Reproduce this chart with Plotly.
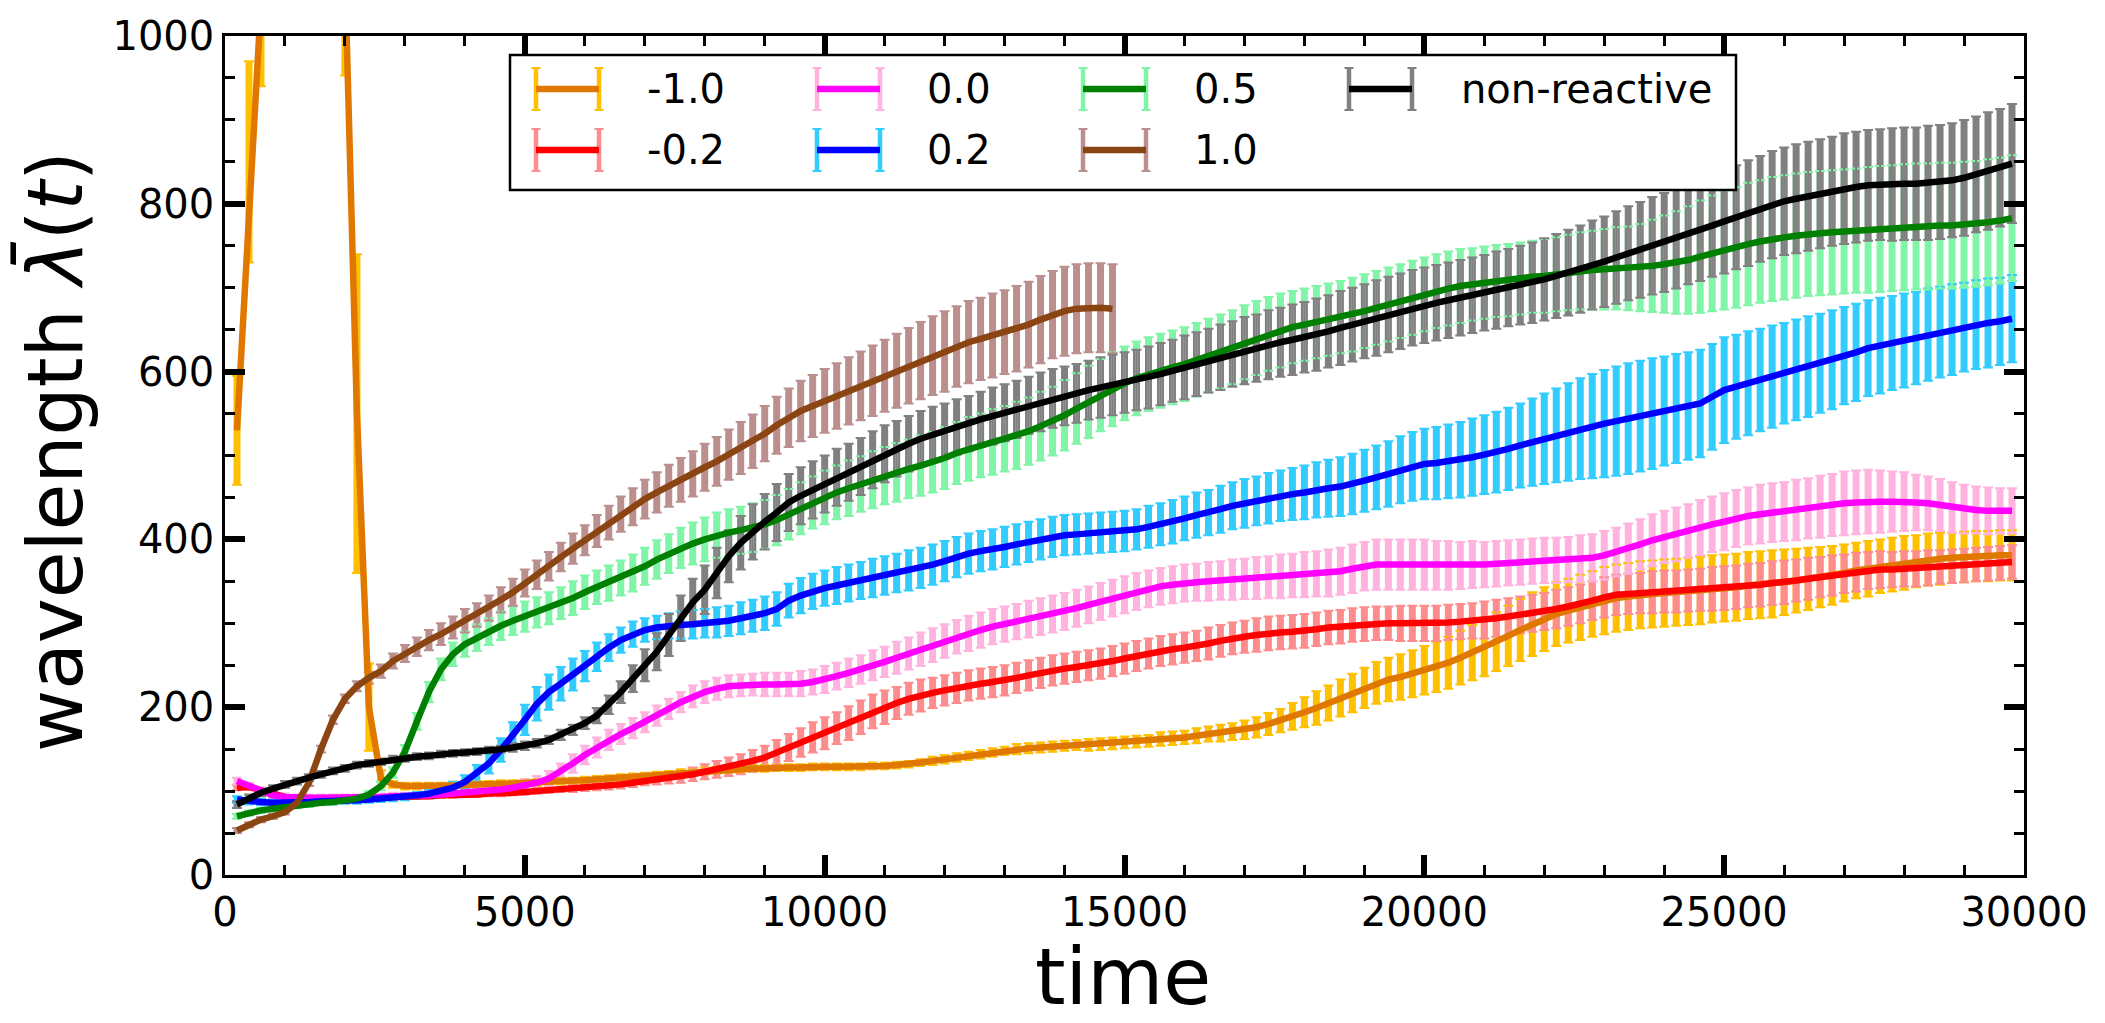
import plotly.graph_objects as go

# ---------------- data ----------------
TIME = list(range(200, 29801, 200))          # sample times (149 points)
TIME_1P0 = TIME[:74]                          # series "1.0" stops at 14800

LABELS = ["-1.0", "-0.2", "0.0", "0.2", "0.5", "1.0", "non-reactive"]

MEAN_M1P0 = [530, 850, 1150, 1400, 1550, 1600, 1550, 1450, 1300, 1076,
             550, 200, 115, 108, 106, 106, 106, 106, 107, 107,
             108, 108, 109, 109, 110, 110, 111, 112, 112, 113,
             114, 115, 116, 117, 118, 119, 120, 122, 123, 124,
             125, 126, 126, 127, 127, 128, 128, 128, 129, 129,
             129, 129, 129, 130, 130, 131, 132, 134, 136, 138,
             140, 142, 144, 146, 148, 150, 151, 152, 153, 154,
             155, 155, 156, 157, 158, 159, 160, 162, 163, 164,
             166, 168, 169, 171, 173, 176, 180, 184, 189, 194,
             199, 205, 211, 217, 223, 229, 233, 236, 240, 244,
             248, 253, 259, 265, 271, 278, 285, 292, 299, 305,
             311, 315, 319, 323, 327, 330, 332, 334, 335, 336,
             337, 338, 339, 341, 342, 343, 345, 346, 347, 349,
             351, 353, 355, 357, 360, 363, 365, 368, 370, 372,
             374, 376, 377, 378, 379, 380, 380, 381, 381]
ERR_M1P0 = [65, 120, 210, 250, 250, 250, 250, 220, 180, 123,
            190, 52, 10, 4, 4, 4, 4, 4, 4, 4,
            4, 4, 4, 4, 4, 4, 4, 4, 4, 4,
            4, 4, 4, 4, 4, 4, 4, 4, 4, 4,
            4, 4, 4, 4, 4, 4, 4, 4, 4, 4,
            4, 4, 4, 4, 4, 4, 4, 4, 5, 5,
            5, 5, 5, 5, 5, 6, 6, 6, 6, 6,
            6, 7, 7, 7, 7, 7, 7, 8, 8, 8,
            9, 9, 10, 10, 11, 12, 13, 14, 16, 18,
            20, 21, 22, 23, 24, 25, 26, 27, 28, 29,
            30, 31, 32, 33, 34, 35, 36, 37, 38, 38,
            38, 38, 39, 39, 40, 40, 40, 40, 40, 40,
            40, 40, 40, 40, 40, 40, 40, 40, 40, 39,
            38, 37, 36, 35, 34, 33, 33, 32, 32, 32,
            31, 31, 31, 30, 30, 30, 30, 30, 30]

MEAN_M0P2 = [104, 105, 101, 96, 93, 92, 91, 91, 91, 91,
             91, 92, 92, 93, 93, 94, 94, 95, 95, 96,
             96, 97, 97, 98, 99, 100, 101, 102, 103, 104,
             105, 106, 108, 110, 112, 114, 115, 117, 120, 123,
             126, 129, 132, 136, 140, 146, 152, 158, 164, 169,
             175, 181, 188, 195, 200, 205, 210, 214, 217, 220,
             223, 226, 228, 230, 232, 235, 238, 241, 244, 246,
             248, 250, 252, 255, 258, 261, 264, 267, 269, 271,
             273, 276, 279, 282, 284, 286, 288, 289, 290, 291,
             293, 295, 296, 298, 299, 300, 300, 300, 300, 300,
             300, 301, 302, 303, 304, 306, 308, 310, 312, 314,
             317, 320, 323, 327, 331, 334, 335, 336, 337, 338,
             338, 339, 340, 341, 342, 343, 345, 346, 348, 349,
             351, 353, 355, 357, 359, 361, 363, 364, 364, 365,
             365, 366, 367, 368, 369, 370, 371, 372, 373]
ERR_M0P2 = [3, 3, 3, 3, 3, 3, 3, 3, 3, 3,
            3, 3, 3, 3, 3, 3, 3, 3, 3, 3,
            3, 3, 3, 3, 3, 3, 3, 3, 4, 4,
            4, 4, 5, 5, 5, 6, 6, 7, 8, 9,
            10, 11, 12, 13, 14, 15, 16, 17, 18, 19,
            19, 20, 20, 20, 20, 19, 19, 19, 18, 18,
            18, 18, 18, 18, 18, 18, 18, 18, 18, 18,
            18, 18, 18, 18, 18, 18, 18, 18, 18, 18,
            18, 19, 19, 19, 19, 20, 20, 20, 20, 20,
            20, 20, 20, 20, 20, 20, 20, 21, 21, 21,
            21, 21, 21, 21, 22, 22, 22, 22, 22, 22,
            23, 23, 23, 23, 24, 24, 24, 24, 25, 25,
            25, 25, 25, 26, 26, 26, 26, 26, 26, 26,
            25, 25, 24, 24, 23, 23, 22, 22, 21, 21,
            21, 21, 20, 20, 20, 20, 20, 20, 20]

MEAN_0P0 = [112, 106, 100, 95, 93, 92, 92, 92, 92, 92,
            92, 93, 93, 94, 94, 95, 95, 96, 97, 98,
            99, 100, 102, 104, 107, 110, 115, 123, 133, 143,
            152, 161, 168, 175, 182, 190, 198, 206, 213, 218,
            222, 225, 226, 227, 227, 227, 227, 228, 230, 233,
            237, 241, 245, 250, 254, 259, 264, 269, 274, 279,
            284, 288, 292, 296, 299, 302, 305, 308, 311, 314,
            318, 322, 326, 330, 334, 338, 341, 344, 346, 348,
            349, 350, 351, 352, 353, 354, 355, 356, 357, 358,
            359, 360, 362, 365, 368, 370, 370, 370, 370, 370,
            369, 369, 369, 370, 370, 371, 372, 373, 374, 375,
            375, 376, 377, 378, 381, 385, 389, 394, 399, 403,
            406, 410, 414, 418, 421, 425, 428, 430, 432, 433,
            435, 437, 439, 441, 443, 444, 445, 445, 445, 445,
            444, 443, 441, 438, 436, 435, 434, 434, 434]
ERR_0P0 = [4, 4, 4, 4, 4, 4, 4, 4, 4, 4,
           4, 4, 4, 4, 4, 4, 4, 4, 4, 4,
           4, 5, 5, 6, 7, 8, 9, 10, 11, 11,
           12, 12, 12, 12, 12, 12, 12, 12, 13, 13,
           13, 13, 13, 13, 14, 14, 14, 15, 15, 16,
           16, 17, 17, 18, 18, 19, 19, 20, 20, 20,
           20, 21, 21, 21, 21, 21, 22, 22, 22, 22,
           22, 22, 22, 22, 22, 22, 22, 22, 22, 22,
           22, 23, 23, 24, 24, 25, 25, 26, 26, 27,
           27, 28, 28, 29, 29, 30, 30, 30, 30, 30,
           29, 29, 28, 28, 27, 27, 27, 27, 27, 27,
           27, 27, 28, 28, 29, 29, 30, 30, 31, 31,
           32, 32, 33, 33, 34, 34, 34, 35, 35, 35,
           36, 36, 37, 37, 38, 38, 38, 37, 36, 35,
           33, 32, 31, 30, 29, 28, 28, 27, 27]

MEAN_0P2 = [90, 88, 87, 86, 86, 87, 87, 88, 88, 89,
            89, 90, 91, 92, 93, 95, 97, 100, 104, 111,
            121, 133, 149, 166, 185, 204, 218, 228, 239, 249,
            260, 271, 280, 287, 292, 295, 297, 298, 299, 300,
            301, 303, 306, 309, 312, 317, 327, 333, 338, 342,
            345, 348, 351, 354, 357, 360, 363, 366, 370, 374,
            379, 383, 386, 388, 391, 394, 397, 400, 403, 405,
            406, 407, 408, 409, 410, 412, 415, 418, 421, 425,
            429, 432, 436, 440, 443, 446, 449, 452, 454, 456,
            459, 461, 463, 466, 470, 474, 478, 483, 487, 490,
            491, 493, 495, 498, 501, 504, 508, 512, 516, 520,
            524, 528, 532, 535, 538, 541, 544, 547, 550, 553,
            556, 559, 562, 570, 578, 582, 586, 590, 594, 598,
            602, 606, 610, 614, 619, 623, 628, 631, 634, 637,
            640, 644, 647, 650, 653, 656, 658, 660, 663]
ERR_0P2 = [4, 4, 4, 4, 4, 4, 4, 4, 4, 4,
           4, 4, 4, 4, 4, 4, 5, 6, 7, 8,
           10, 12, 14, 16, 18, 20, 21, 20, 19, 18,
           17, 16, 15, 15, 14, 14, 15, 16, 17, 17,
           18, 18, 19, 19, 20, 20, 20, 21, 21, 21,
           22, 22, 22, 23, 23, 23, 24, 24, 24, 24,
           24, 24, 24, 24, 24, 24, 24, 24, 24, 24,
           24, 24, 24, 24, 24, 24, 25, 25, 26, 26,
           27, 27, 28, 28, 29, 29, 30, 30, 31, 32,
           33, 34, 35, 36, 37, 38, 39, 40, 41, 42,
           43, 44, 45, 46, 47, 48, 49, 50, 52, 54,
           56, 58, 60, 62, 64, 65, 66, 66, 66, 65,
           65, 64, 64, 63, 63, 62, 62, 61, 61, 60,
           60, 60, 59, 59, 58, 58, 57, 57, 56, 56,
           55, 55, 54, 54, 53, 53, 53, 52, 52]

MEAN_0P5 = [70, 74, 77, 79, 81, 83, 84, 86, 87, 89,
            91, 96, 106, 122, 147, 183, 218, 245, 263, 275,
            283, 290, 297, 303, 308, 313, 318, 324, 330, 337,
            343, 348, 354, 360, 368, 376, 383, 390, 395, 400,
            405, 408, 411, 414, 418, 423, 430, 437, 444, 450,
            456, 461, 466, 471, 476, 480, 484, 488, 492, 497,
            503, 508, 512, 516, 520, 524, 529, 535, 541, 548,
            556, 564, 572, 579, 586, 592, 597, 601, 605, 609,
            614, 619, 624, 629, 635, 640, 645, 649, 653, 656,
            659, 662, 665, 668, 672, 676, 680, 684, 688, 692,
            696, 699, 702, 704, 706, 708, 709, 711, 713, 714,
            716, 718, 720, 721, 722, 723, 723, 724, 726, 728,
            730, 733, 737, 741, 745, 748, 752, 755, 758, 760,
            762, 764, 765, 766, 767, 768, 769, 770, 771, 772,
            773, 773, 774, 774, 775, 776, 778, 780, 783]
ERR_0P5 = [3, 3, 3, 3, 3, 3, 3, 3, 3, 3,
           3, 4, 5, 6, 8, 10, 12, 13, 14, 15,
           16, 16, 17, 17, 18, 18, 19, 19, 20, 20,
           20, 21, 21, 22, 22, 23, 23, 24, 25, 26,
           27, 28, 28, 29, 29, 30, 30, 31, 31, 32,
           32, 33, 33, 34, 34, 35, 35, 36, 36, 37,
           37, 38, 38, 39, 39, 40, 40, 41, 41, 42,
           42, 43, 43, 44, 44, 44, 44, 44, 44, 44,
           44, 44, 44, 44, 44, 44, 44, 44, 43, 43,
           43, 43, 43, 44, 44, 44, 44, 44, 44, 44,
           44, 44, 44, 43, 43, 43, 43, 43, 43, 44,
           44, 45, 46, 47, 48, 49, 50, 52, 55, 58,
           61, 64, 67, 69, 71, 72, 73, 73, 74, 74,
           74, 74, 74, 74, 74, 74, 75, 75, 75, 75,
           75, 75, 75, 75, 75, 75, 75, 75, 75]

MEAN_1P0 = [53, 60, 66, 70, 75, 86, 110, 150, 185, 210,
            225, 235, 243, 255, 264, 272, 280, 287, 295, 303,
            310, 318, 328, 337, 348, 358, 368, 379, 389, 399,
            410, 420, 430, 439, 448, 456, 464, 471, 478, 486,
            493, 501, 509, 517, 526, 536, 545, 553, 559, 565,
            571, 577, 583, 589, 595, 601, 607, 613, 619, 624,
            630, 635, 639, 643, 647, 651, 656, 662, 668, 672,
            675, 676, 676, 675]
ERR_1P0 = [3, 3, 3, 3, 3, 3, 4, 4, 5, 5,
           6, 7, 8, 9, 10, 11, 12, 13, 13, 14,
           14, 15, 15, 16, 16, 17, 17, 17, 18, 18,
           19, 20, 21, 22, 23, 24, 25, 26, 27, 28,
           29, 30, 31, 32, 33, 34, 35, 36, 37, 38,
           39, 40, 41, 42, 43, 44, 45, 46, 47, 48,
           48, 49, 49, 50, 50, 51, 51, 52, 52, 53,
           53, 53, 53, 53]

MEAN_NR = [84, 92, 98, 103, 108, 112, 116, 120, 124, 127,
           131, 133, 135, 138, 139, 141, 142, 144, 145, 146,
           147, 149, 150, 152, 154, 157, 161, 167, 173, 181,
           190, 203, 218, 234, 250, 266, 286, 306, 325, 340,
           360, 380, 396, 409, 421, 432, 444, 452, 459, 466,
           474, 480, 487, 495, 502, 508, 514, 520, 525, 529,
           534, 538, 543, 547, 551, 555, 560, 564, 568, 571,
           574, 578, 581, 584, 587, 590, 593, 597, 601, 605,
           609, 613, 617, 621, 625, 628, 632, 635, 638, 641,
           644, 648, 652, 656, 660, 664, 668, 672, 676, 679,
           682, 685, 688, 691, 694, 697, 700, 703, 706, 710,
           714, 718, 722, 727, 731, 736, 741, 745, 750, 754,
           759, 764, 769, 774, 779, 784, 789, 794, 799, 803,
           806, 809, 812, 815, 818, 820, 822, 823, 823, 824,
           824, 825, 826, 828, 831, 835, 839, 843, 848]
ERR_NR = [4, 4, 4, 4, 4, 4, 4, 4, 4, 4,
          4, 4, 4, 4, 4, 4, 4, 4, 4, 4,
          4, 4, 4, 5, 5, 5, 5, 6, 6, 7,
          9, 11, 13, 16, 19, 22, 25, 27, 28, 29,
          30, 31, 32, 33, 33, 34, 34, 34, 34, 34,
          34, 34, 34, 34, 34, 33, 33, 33, 33, 33,
          33, 33, 33, 34, 34, 34, 34, 35, 35, 35,
          35, 35, 36, 36, 36, 36, 37, 37, 37, 38,
          38, 38, 39, 39, 40, 40, 41, 41, 42, 42,
          43, 43, 44, 44, 44, 45, 45, 45, 45, 45,
          45, 45, 45, 45, 45, 46, 46, 47, 48, 49,
          50, 51, 52, 53, 54, 55, 56, 57, 58, 59,
          60, 60, 61, 61, 62, 62, 63, 63, 64, 64,
          65, 65, 65, 65, 66, 66, 66, 66, 67, 67,
          67, 68, 68, 68, 69, 69, 70, 70, 71]

X_TICKS = [0, 5000, 10000, 15000, 20000, 25000, 30000]
Y_TICKS = [0, 200, 400, 600, 800, 1000]

# ---------------- styles ----------------
LINE_COLORS = ["#E07800", "#FF0000", "#FF00FF", "#0000FF", "#008000", "#8B4513", "#000000"]
BAR_COLORS = ["#FFC000", "#FF8C8C", "#FFB3DE", "#33CCFF", "#80F5A8", "#BC8F8F", "#808080"]

SERIES = [
    (TIME, MEAN_M1P0, ERR_M1P0),
    (TIME, MEAN_M0P2, ERR_M0P2),
    (TIME, MEAN_0P0, ERR_0P0),
    (TIME, MEAN_0P2, ERR_0P2),
    (TIME, MEAN_0P5, ERR_0P5),
    (TIME_1P0, MEAN_1P0, ERR_1P0),
    (TIME, MEAN_NR, ERR_NR),
]

W, H = 2105, 1023
ML, MR, MT, MB = 225, 81, 36, 148
PW, PH = W - ML - MR, H - MT - MB
FONT = "DejaVu Sans"


def px(xp):
    return (xp - ML) / PW


def py(yp):
    return (H - MB - yp) / PH


fig = go.Figure()

# thick error bars (no caps) under everything
for (t, m, e), bc in zip(SERIES, BAR_COLORS):
    fig.add_trace(go.Scatter(
        x=t, y=m, mode="markers",
        marker=dict(size=1, opacity=0, color=bc),
        error_y=dict(type="data", array=e, color=bc, thickness=7, width=0),
        hoverinfo="skip", showlegend=False))

# thin caps on top of the bars
for (t, m, e), bc in zip(SERIES, BAR_COLORS):
    fig.add_trace(go.Scatter(
        x=t, y=m, mode="markers",
        marker=dict(size=1, opacity=0, color=bc),
        error_y=dict(type="data", array=e, color=bc, thickness=2, width=5),
        hoverinfo="skip", showlegend=False))

# mean curves
for (t, m, e), lab, lc in zip(SERIES, LABELS, LINE_COLORS):
    fig.add_trace(go.Scatter(
        x=t, y=m, mode="lines", name=lab,
        line=dict(color=lc, width=6.5), showlegend=False))

axis_common = dict(
    showgrid=False, zeroline=False, showline=True, linecolor="black", linewidth=2.5,
    mirror="ticks", ticks="inside", ticklen=20, tickwidth=6, tickcolor="black",
    tickfont=dict(family=FONT, size=40, color="black"),
)
fig.update_xaxes(range=[0, 30000], tickvals=X_TICKS, ticktext=[str(v) for v in X_TICKS],
                 minor=dict(dtick=1000, ticks="inside", ticklen=10, tickwidth=2.7,
                            tickcolor="black", showgrid=False),
                 **axis_common)
fig.update_yaxes(range=[0, 1000], tickvals=Y_TICKS, ticktext=[str(v) for v in Y_TICKS],
                 minor=dict(dtick=50, ticks="inside", ticklen=10, tickwidth=2.7,
                            tickcolor="black", showgrid=False),
                 **axis_common)

# ---------------- custom legend (errorbar-style keys) ----------------
shapes = []
annotations = []
shapes.append(dict(type="rect", xref="paper", yref="paper", layer="above",
                   x0=px(510), x1=px(1736), y0=py(55), y1=py(190),
                   line=dict(color="black", width=2.5), fillcolor="white"))
COL_SYM_X = [536, 817, 1083, 1349]
COL_TXT_X = [645, 925, 1192, 1459]
ROW_Y = [89, 150]
KEY_W, KEY_HH, CAP = 63, 21, 4.5
for i, (lab, lc, bc) in enumerate(zip(LABELS, LINE_COLORS, BAR_COLORS)):
    c, r = i // 2, i % 2
    x0 = COL_SYM_X[c]
    yc = ROW_Y[r]
    for xx in (x0, x0 + KEY_W):
        shapes.append(dict(type="line", xref="paper", yref="paper", layer="above",
                           x0=px(xx), x1=px(xx), y0=py(yc - KEY_HH), y1=py(yc + KEY_HH),
                           line=dict(color=bc, width=4.5)))
        for yy in (yc - KEY_HH, yc + KEY_HH):
            shapes.append(dict(type="line", xref="paper", yref="paper", layer="above",
                               x0=px(xx - CAP), x1=px(xx + CAP), y0=py(yy), y1=py(yy),
                               line=dict(color=bc, width=2)))
    shapes.append(dict(type="line", xref="paper", yref="paper", layer="above",
                       x0=px(x0), x1=px(x0 + KEY_W), y0=py(yc), y1=py(yc),
                       line=dict(color=lc, width=6.5)))
    annotations.append(dict(text=lab, xref="paper", yref="paper", showarrow=False,
                            x=px(COL_TXT_X[c]), y=py(yc), xanchor="left", yanchor="middle",
                            font=dict(family=FONT, size=40, color="black")))

# axis titles
annotations.append(dict(text="time", xref="paper", yref="paper", showarrow=False,
                        x=px(1123), y=py(977), xanchor="center", yanchor="middle",
                        font=dict(family=FONT, size=78, color="black")))
annotations.append(dict(text="wavelength <i>λ̄</i>(<i>t</i>)", xref="paper", yref="paper",
                        showarrow=False, textangle=-90,
                        x=px(55), y=py(452), xanchor="center", yanchor="middle",
                        font=dict(family=FONT, size=76, color="black")))

fig.update_layout(
    width=W, height=H,
    margin=dict(l=ML, r=MR, t=MT, b=MB, autoexpand=False),
    paper_bgcolor="white", plot_bgcolor="white",
    showlegend=False,
    shapes=shapes, annotations=annotations,
    font=dict(family=FONT, color="black"),
)

fig.write_html("out.html")
